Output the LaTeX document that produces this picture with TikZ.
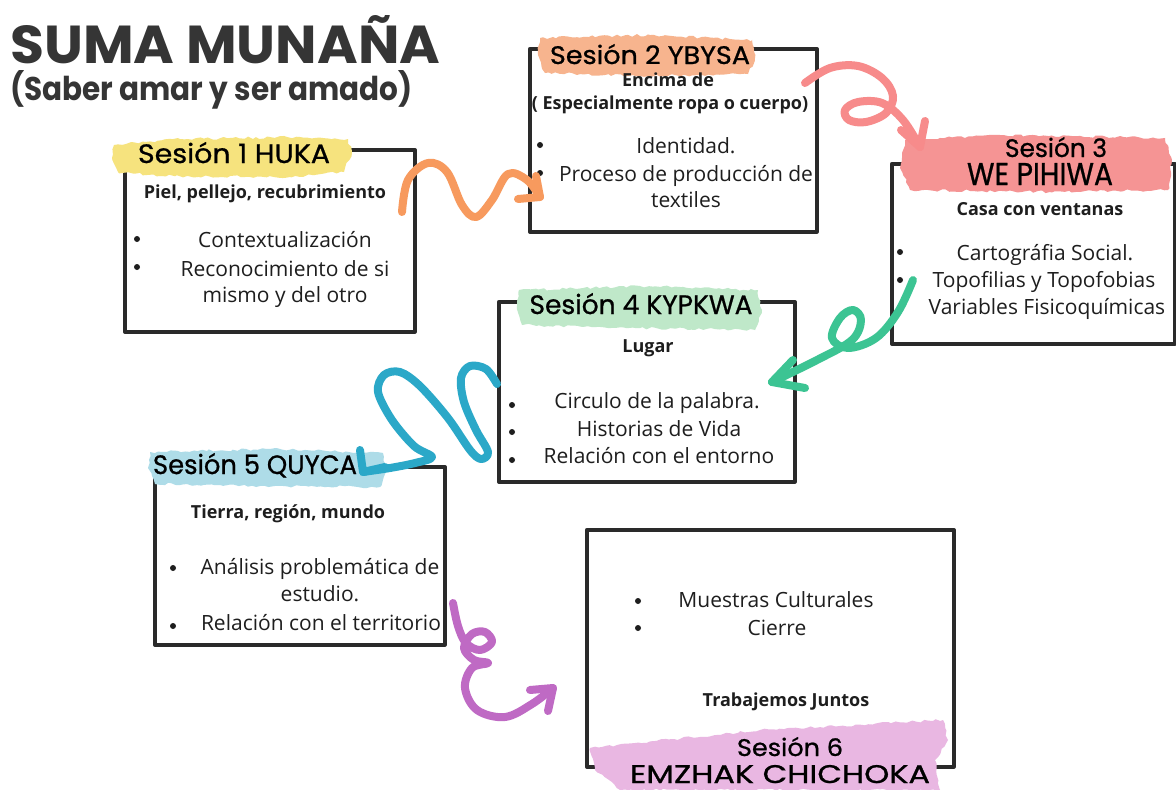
\documentclass[tikz,border=0pt]{standalone}
\usepackage{fontspec}
\usepackage{graphicx}
\setmainfont{Open Sans}
\newfontfamily\titlefont{Poppins}
\newfontfamily\handfont{Poppins}[FakeBold=0.8]
\usetikzlibrary{decorations.pathmorphing}
\definecolor{ink}{HTML}{2A2A2A}
\definecolor{txt}{HTML}{1E1E1E}
\definecolor{ttl}{HTML}{353535}
\definecolor{bYellow}{HTML}{F6E37E}
\definecolor{bOrange}{HTML}{F7B48E}
\definecolor{bSalmon}{HTML}{F59494}
\definecolor{bGreen}{HTML}{BFE8C9}
\definecolor{bBlue}{HTML}{AEDCE8}
\definecolor{bPink}{HTML}{E9B7E2}
\definecolor{cOrange}{HTML}{F79A5E}
\definecolor{cPink}{HTML}{F78B8B}
\definecolor{cGreen}{HTML}{3CC493}
\definecolor{cBlue}{HTML}{2BA8C8}
\definecolor{cPurple}{HTML}{BF6AC4}
\begin{document}
\begin{tikzpicture}[x=1pt,y=-1pt,
  sbox/.style={draw=ink, line width=3.6pt, line join=round, inner sep=0pt, anchor=north west},
  body/.style={font=\fontsize{21}{21}\selectfont, text=txt, anchor=base, inner sep=0pt},
  sub/.style={font=\fontsize{18}{18}\selectfont\bfseries, text=txt, anchor=base, inner sep=0pt},
  dot/.style={circle, fill=txt, inner sep=0pt, minimum size=6pt},
  lab/.style={text=black, anchor=base, inner sep=0pt},
  squig/.style={line width=8pt, line cap=round, line join=round},
  brush/.style={decorate, decoration={random steps, segment length=4pt, amplitude=1.3pt}}
]
\pgfmathsetseed{7}
\useasboundingbox (0,0) rectangle (1176,790);
\fill[white] (0,0) rectangle (1176,790);

% title
\node[anchor=base west, inner sep=0pt, text=ttl] (title) at (10,63)
  {\resizebox{430pt}{48pt}{\titlefont\bfseries SUMA MUNAÑA}};
\node[anchor=base west, inner sep=0pt, text=ttl] (subtitle) at (10,100)
  {\resizebox{402pt}{30pt}{\titlefont\bfseries (Saber amar y ser amado)}};

% boxes
\node[sbox, minimum width=290pt, minimum height=182pt] (b1) at (123,148) {};
\node[sbox, minimum width=287pt, minimum height=183pt] (b2) at (528,47) {};
\node[sbox, minimum width=283pt, minimum height=180pt] (b3) at (890,162) {};
\node[sbox, minimum width=296pt, minimum height=180pt] (b4) at (497,300) {};
\node[sbox, minimum width=290pt, minimum height=178pt] (b5) at (153,465) {};
\node[sbox, minimum width=367pt, minimum height=237pt] (b6) at (585,528) {};

% brush highlights
\fill[bYellow, brush] (114,145) -- (180,139) -- (300,137) -- (348,139) -- (352,152) -- (344,172) -- (290,177) -- (160,176) -- (118,172) -- (112,158) -- cycle;
\fill[bOrange, brush] (540,38) -- (650,35) -- (752,40) -- (755,58) -- (748,74) -- (640,76) -- (545,73) -- (538,55) -- cycle;
\fill[bSalmon, brush] (905,140) -- (1000,135) -- (1165,138) -- (1172,160) -- (1168,190) -- (1050,192) -- (910,190) -- (900,168) -- cycle;
\fill[bGreen, brush] (519,290) -- (640,286) -- (758,290) -- (762,310) -- (755,330) -- (640,328) -- (522,325) -- (517,305) -- cycle;
\fill[bBlue, brush] (150,452) -- (270,449) -- (383,453) -- (386,470) -- (380,487) -- (260,486) -- (155,484) -- (148,468) -- cycle;
\fill[bPink, brush] (590,748) -- (760,730) -- (943,720) -- (948,740) -- (935,760) -- (940,790) -- (620,790) -- (595,770) -- cycle;

% session labels
\node[lab] (l1) at (234,163) {\resizebox{192pt}{21pt}{\handfont Sesión 1 HUKA}};
\node[lab] (l2) at (650,64) {\resizebox{200pt}{20pt}{\handfont Sesión 2 YBYSA}};
\node[lab] (l3a) at (1056,157) {\resizebox{102pt}{20pt}{\handfont Sesión 3}};
\node[lab] (l3b) at (1040,185) {\resizebox{146pt}{22pt}{\handfont WE PIHIWA}};
\node[lab] (l4) at (641,314) {\resizebox{223pt}{21pt}{\handfont Sesión 4 KYPKWA}};
\node[lab] (l5) at (255,474) {\resizebox{204pt}{21pt}{\handfont Sesión 5 QUYCA}};
\node[lab] (l6a) at (790,756) {\resizebox{106pt}{19pt}{\handfont Sesión 6}};
\node[lab] (l6b) at (780,783) {\resizebox{300pt}{18pt}{\handfont EMZHAK CHICHOKA}};

% box 1
\node[sub] (s1) at (265,198) {Piel, pellejo, recubrimiento};
\node[dot] (d11) at (137,239) {};
\node[dot] (d12) at (137,267) {};
\node[body] (t11) at (285,247) {Contextualización};
\node[body] (t12) at (285,276) {Reconocimiento de si};
\node[body] (t13) at (285,302) {mismo y del otro};

% box 2
\node[sub] (s2a) at (668,86) {Encima de};
\node[sub] (s2b) at (670,109) {( Especialmente ropa o cuerpo)};
\node[dot] (d21) at (540,145) {};
\node[dot] (d22) at (540,173) {};
\node[body] (t21) at (686,153) {Identidad.};
\node[body] (t22) at (686,181) {Proceso de producción de};
\node[body] (t23) at (686,207) {textiles};

% box 3
\node[sub] (s3) at (1040,215) {Casa con ventanas};
\node[dot] (d31) at (900,252) {};
\node[dot] (d32) at (900,280) {};
\node[dot] (d33) at (900,307) {};
\node[body] (t31) at (1045,260) {Cartográfia Social.};
\node[body] (t32) at (1044,287) {Topofilias y Topofobias};
\node[body] (t33) at (1047,314) {Variables Fisicoquímicas};

% box 4
\node[sub] (s4) at (648,352) {Lugar};
\node[dot] (d41) at (512,405) {};
\node[dot] (d42) at (512,432) {};
\node[dot] (d43) at (512,460) {};
\node[body] (t41) at (657,408) {Circulo de la palabra.};
\node[body] (t42) at (659,436) {Historias de Vida};
\node[body] (t43) at (659,463) {Relación con el entorno};

% box 5
\node[sub] (s5) at (288,518) {Tierra, región, mundo};
\node[dot] (d51) at (173,568) {};
\node[dot] (d52) at (173,626) {};
\node[body] (t51) at (320,574) {Análisis problemática de};
\node[body] (t52) at (320,601) {estudio.};
\node[body] (t53) at (321,630) {Relación con el territorio};

% box 6
\node[dot] (d61) at (638,601) {};
\node[dot] (d62) at (638,628) {};
\node[body] (t61) at (776,607) {Muestras Culturales};
\node[body] (t62) at (777,635) {Cierre};
\node[sub] (s6) at (786,706) {Trabajemos Juntos};

% connectors
\coordinate (o-s) at (402,212); \coordinate (o-t) at (540,197);
\draw[squig, cOrange] plot[smooth, tension=0.6] coordinates {(o-s) (408,180) (428,163) (447,172) (462,205) (476,217) (492,200) (508,174) (527,180) (o-t)};
\draw[squig, cOrange] (518,199) -- (o-t) -- (536,176);

\coordinate (p-s) at (805,83); \coordinate (p-t) at (920,147);
\draw[squig, cPink] plot[smooth, tension=0.6] coordinates {(p-s) (830,68) (858,66) (882,78) (893,96) (886,113) (866,122) (849,120) (845,110) (858,102) (882,103) (903,120) (p-t)};
\draw[squig, cPink] (901,130) -- (p-t) -- (925,121);

\coordinate (g-s) at (913,280); \coordinate (g-t) at (772,382);
\draw[squig, cGreen] plot[smooth, tension=0.6] coordinates {(g-s) (898,312) (876,338) (848,348) (832,338) (840,318) (853,310) (861,320) (852,340) (817,360) (g-t)};
\draw[squig, cGreen] (793,360) -- (g-t) -- (805,388);

\coordinate (u-s) at (497,384); \coordinate (u-t) at (363,472);
\draw[squig, cBlue] plot[smooth, tension=0.55] coordinates {(u-s) (486,369) (470,366) (461,378) (464,402) (476,430) (488,452) (481,459) (470,450) (448,418) (420,386) (400,372) (384,375) (378,392) (392,420) (414,446) (432,457) (415,463) (390,468) (u-t)};
\draw[squig, cBlue] (360,450) -- (u-t) -- (385,467);

\coordinate (m-s) at (453,603); \coordinate (m-t) at (553,688);
\draw[squig, cPurple] plot[smooth, tension=0.6] coordinates {(m-s) (458,626) (466,643) (480,650) (492,642) (485,632) (472,634) (464,648) (474,660) (488,663) (472,668) (465,688) (477,710) (505,717) (532,704) (m-t)};
\draw[squig, cPurple] (530,690) -- (m-t) -- (548,711);
\end{tikzpicture}
\end{document}
